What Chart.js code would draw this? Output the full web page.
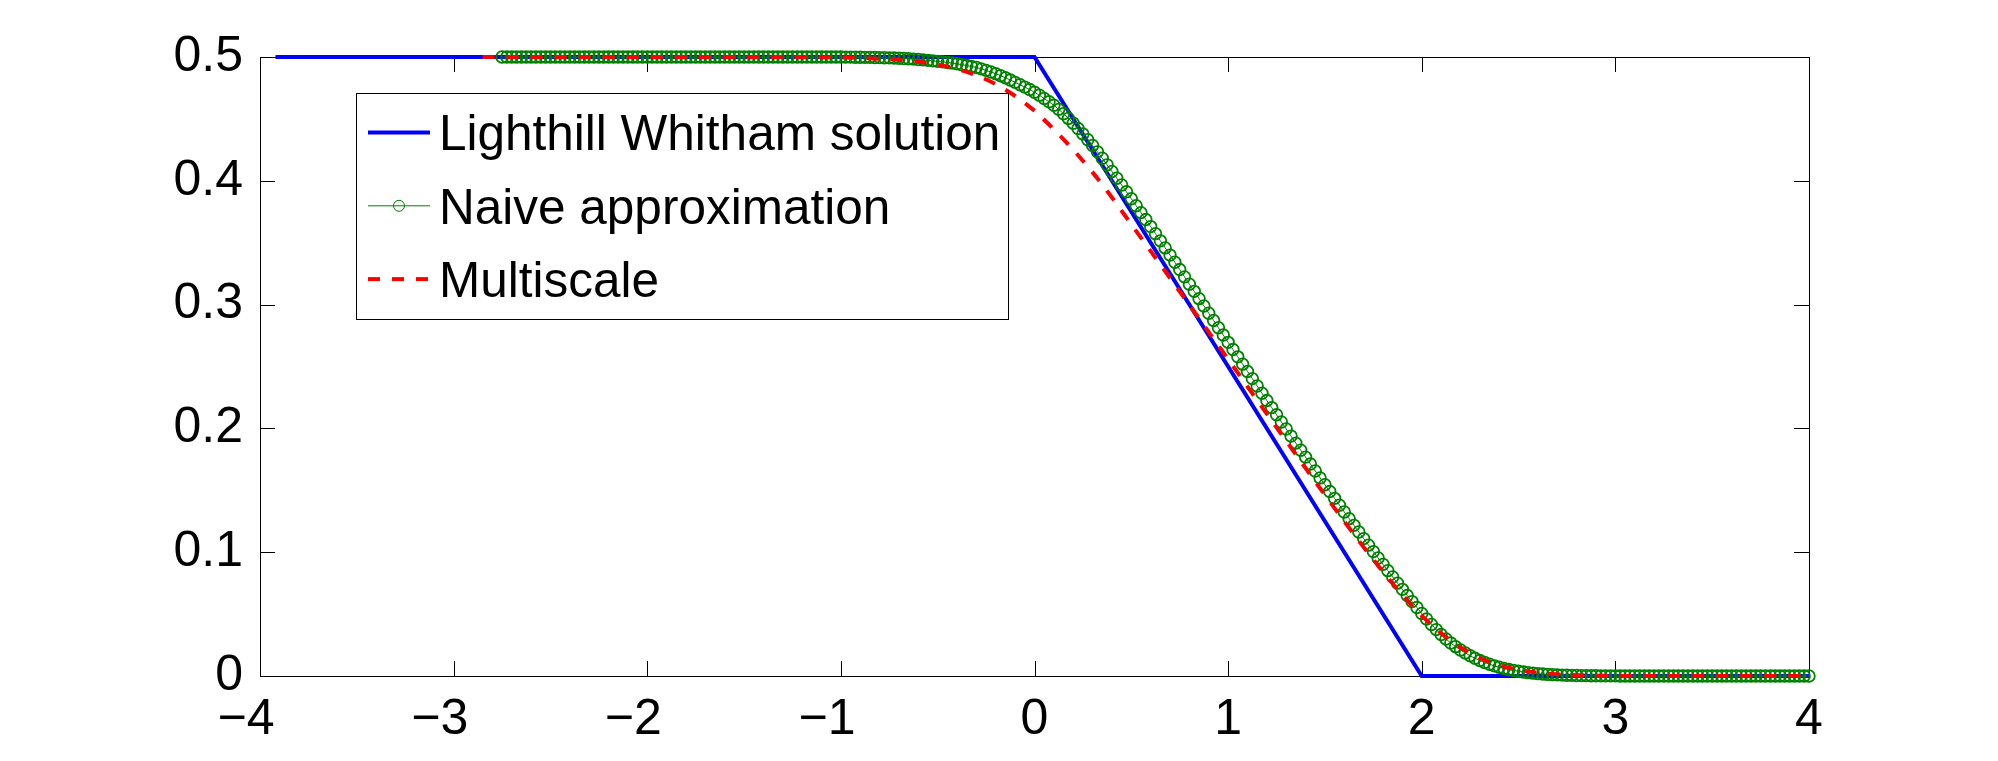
<!DOCTYPE html>
<html>
<head>
<meta charset="utf-8">
<script src="https://cdn.jsdelivr.net/npm/chart.js@4.4.1/dist/chart.umd.min.js"></script>
<style>
  html, body { margin: 0; background: #fff; }
  #wrap { position: relative; width: 1998px; height: 761px; }
</style>
</head>
<body>
<div id="wrap"><canvas id="plot"></canvas></div>
<script>
// Lighthill Whitham solution (piecewise linear)
const lwX = [-3.92, 0, 2, 4];
const lwY = [0.5, 0.5, 0, 0];

// Naive approximation (circle markers, dense)
const naiveX = [
  -2.75,-2.725,-2.7,-2.675,-2.65,-2.625,-2.6,-2.575,-2.55,-2.525,
  -2.5,-2.475,-2.45,-2.425,-2.4,-2.375,-2.35,-2.325,-2.3,-2.275,
  -2.25,-2.225,-2.2,-2.175,-2.15,-2.125,-2.1,-2.075,-2.05,-2.025,
  -2,-1.975,-1.95,-1.925,-1.9,-1.875,-1.85,-1.825,-1.8,-1.775,
  -1.75,-1.725,-1.7,-1.675,-1.65,-1.625,-1.6,-1.575,-1.55,-1.525,
  -1.5,-1.475,-1.45,-1.425,-1.4,-1.375,-1.35,-1.325,-1.3,-1.275,
  -1.25,-1.225,-1.2,-1.175,-1.15,-1.125,-1.1,-1.075,-1.05,-1.025,
  -1,
  -0.975,-0.95,-0.925,-0.9,-0.875,-0.85,-0.825,-0.8,-0.775,-0.75,-0.725,-0.7,-0.675,-0.65,-0.625,-0.6,-0.575,-0.55,-0.525,-0.5,
  -0.475,-0.45,-0.425,-0.4,-0.375,-0.35,-0.325,-0.3,-0.275,-0.25,-0.225,-0.2,-0.175,-0.15,-0.125,-0.1,-0.075,-0.05,-0.025,0,
  0.025,0.05,0.075,0.1,0.125,0.15,0.175,0.2,0.225,0.25,0.275,0.3,0.325,0.35,0.375,0.4,0.425,0.45,0.475,0.5,
  0.525,0.55,0.575,0.6,0.625,0.65,0.675,0.7,0.725,0.75,0.775,0.8,0.825,0.85,0.875,0.9,0.925,0.95,0.975,1,
  1.025,1.05,1.075,1.1,1.125,1.15,1.175,1.2,1.225,1.25,1.275,1.3,1.325,1.35,1.375,1.4,1.425,1.45,1.475,1.5,
  1.525,1.55,1.575,1.6,1.625,1.65,1.675,1.7,1.725,1.75,1.775,1.8,1.825,1.85,1.875,1.9,1.925,1.95,1.975,2,
  2.025,2.05,2.075,2.1,2.125,2.15,2.175,2.2,2.225,2.25,2.275,2.3,2.325,2.35,2.375,2.4,2.425,2.45,2.475,2.5,
  2.525,2.55,2.575,2.6,2.625,2.65,2.675,2.7,2.725,2.75,2.775,2.8,2.825,2.85,2.875,2.9,2.925,2.95,2.975,3,
  3.025,3.05,3.075,3.1,3.125,3.15,3.175,3.2,3.225,3.25,3.275,3.3,3.325,3.35,3.375,3.4,3.425,3.45,3.475,3.5,
  3.525,3.55,3.575,3.6,3.625,3.65,3.675,3.7,3.725,3.75,3.775,3.8,3.825,3.85,3.875,3.9,3.925,3.95,3.975,4];
const naiveY = [
  0.5,0.5,0.5,0.5,0.5,0.5,0.5,0.5,0.5,0.5,
  0.5,0.5,0.5,0.5,0.5,0.5,0.5,0.5,0.5,0.5,
  0.5,0.5,0.5,0.5,0.5,0.5,0.5,0.5,0.5,0.5,
  0.5,0.5,0.5,0.5,0.5,0.5,0.5,0.5,0.5,0.5,
  0.5,0.5,0.5,0.5,0.5,0.5,0.5,0.5,0.5,0.5,
  0.5,0.5,0.5,0.5,0.5,0.5,0.5,0.5,0.5,0.5,
  0.5,0.5,0.5,0.5,0.5,0.5,0.5,0.5,0.5,0.5,
  0.5,
  0.4999,0.4999,0.4998,0.4998,0.4997,0.4997,0.4996,0.4995,0.4994,0.4993,0.4992,0.499,0.4988,0.4986,0.4983,0.498,0.4977,0.4973,0.4969,0.4965,
  0.4961,0.4956,0.4951,0.4945,0.4938,0.4931,0.4923,0.4915,0.4904,0.4892,0.4879,0.4865,0.4849,0.4832,0.4814,0.4795,0.4776,0.4757,0.4737,0.4715,
  0.4691,0.4665,0.4638,0.461,0.4577,0.4542,0.4504,0.4465,0.4422,0.4378,0.4332,0.4285,0.4234,0.4182,0.4129,0.4075,0.4021,0.3966,0.3911,0.3855,
  0.3799,0.3743,0.3687,0.363,0.3573,0.3515,0.3458,0.34,0.3342,0.3283,0.3224,0.3165,0.3107,0.3048,0.2989,0.293,0.2872,0.2813,0.2754,0.2695,
  0.2637,0.2578,0.2519,0.246,0.2402,0.2343,0.2284,0.2225,0.2168,0.211,0.2052,0.1995,0.1938,0.1881,0.1824,0.1768,0.1712,0.1656,0.16,0.1545,
  0.149,0.1435,0.138,0.1325,0.1271,0.1217,0.1163,0.111,0.1057,0.1005,0.0953,0.0902,0.0851,0.08,0.075,0.07,0.065,0.0601,0.0553,0.0505,
  0.046,0.0416,0.0375,0.0335,0.0299,0.0266,0.0237,0.021,0.0186,0.0163,0.0143,0.0125,0.0109,0.0095,0.0082,0.0071,0.0061,0.0052,0.0045,0.0038,
  0.0032,0.0027,0.0023,0.0019,0.0016,0.0013,0.0011,0.0009,0.0007,0.0006,0.0005,0.0004,0.0003,0.0003,0.0002,0.0002,0.0001,0.0001,0.0001,0.0001,
  0,0,0,0,0,0,0,0,0,0,
  0,0,0,0,0,0,0,0,0,0,
  0,0,0,0,0,0,0,0,0,0,
  0,0,0,0,0,0,0,0,0,0];

// Multiscale (dashed)
const multiX = [-2.85,-2.4,-2,-1.6,-1.3,-1.2,-1.1,-1,-0.9,-0.8,-0.7,-0.6,-0.5,-0.4,-0.3,-0.2,-0.1,0,
  0.1,0.2,0.3,0.4,0.5,0.6,0.7,0.8,0.9,1,1.1,1.2,1.3,1.4,1.5,1.6,1.7,1.8,1.9,2,
  2.1,2.2,2.3,2.4,2.5,2.6,2.7,2.8,2.9,3,3.5,4];
const multiY = [0.5,0.5,0.5,0.5,0.5,0.4999,0.4998,0.4996,0.4992,0.4986,0.4976,0.4961,0.4938,0.4903,0.4852,0.478,0.4685,0.4565,
  0.4415,0.425,0.4068,0.3865,0.3648,0.3432,0.3215,0.2997,0.2778,0.2558,0.2338,0.2118,0.1898,0.1679,0.1462,0.1249,0.1041,0.0842,0.0655,0.0488,
  0.0345,0.023,0.0145,0.0087,0.005,0.0027,0.0014,0.0007,0.0003,0.0001,0,0];

const labels = ['Lighthill Whitham solution', 'Naive approximation', 'Multiscale'];
const xTicks = [-4, -3, -2, -1, 0, 1, 2, 3, 4];
const yTicks = [0, 0.1, 0.2, 0.3, 0.4, 0.5];

const FONT = "'Liberation Sans', Arial, Helvetica, sans-serif";
const TICK = 15;

function pts(xs, ys) {
  return xs.map((x, i) => ({x: x, y: ys[i]}));
}

// axes box with inward ticks (drawn under the data, like matlab)
const frame = {
  id: 'frame',
  beforeDatasetsDraw(chart) {
    const {ctx, chartArea: a, scales} = chart;
    ctx.save();
    ctx.strokeStyle = '#000';
    ctx.lineWidth = 1;
    ctx.strokeRect(a.left + 0.5, a.top + 0.5, a.width, a.height);
    ctx.beginPath();
    scales.x.ticks.forEach(t => {
      const px = Math.round(scales.x.getPixelForValue(t.value)) + 0.5;
      ctx.moveTo(px, a.bottom); ctx.lineTo(px, a.bottom - TICK);
      ctx.moveTo(px, a.top); ctx.lineTo(px, a.top + TICK);
    });
    scales.y.ticks.forEach(t => {
      const py = Math.round(scales.y.getPixelForValue(t.value)) + 0.5;
      ctx.moveTo(a.left, py); ctx.lineTo(a.left + TICK, py);
      ctx.moveTo(a.right, py); ctx.lineTo(a.right - TICK, py);
    });
    ctx.stroke();
    ctx.restore();
  }
};

// boxed legend inside the axes
const legendBox = {
  id: 'legendBox',
  afterDatasetsDraw(chart) {
    const {ctx, chartArea: a} = chart;
    const left = a.left + 96, top = a.top + 36, w = 652, h = 226;
    const size = 49.5;
    ctx.save();
    ctx.fillStyle = '#fff';
    ctx.fillRect(left, top, w, h);
    ctx.strokeStyle = '#000';
    ctx.lineWidth = 1;
    ctx.strokeRect(left + 0.5, top + 0.5, w, h);
    ctx.font = size + 'px ' + FONT;
    ctx.textBaseline = 'alphabetic';
    ctx.textAlign = 'left';
    chart.data.datasets.forEach((ds, i) => {
      const cy = top + 39.5 + i * 73.3;
      ctx.strokeStyle = ds.borderColor;
      ctx.lineWidth = ds.borderWidth;
      ctx.setLineDash(ds.borderDash || []);
      ctx.beginPath();
      ctx.moveTo(left + 12, cy);
      ctx.lineTo(left + 74, cy);
      ctx.stroke();
      ctx.setLineDash([]);
      if (ds.pointRadius) {
        ctx.lineWidth = 1;
        ctx.beginPath();
        ctx.arc(left + 43, cy, 5.5, 0, Math.PI * 2);
        ctx.stroke();
      }
      ctx.fillStyle = '#000';
      ctx.fillText(ds.label, left + 83, cy + 0.358 * size);
    });
    ctx.restore();
  }
};

new Chart(document.getElementById('plot'), {
  type: 'scatter',
  data: {
    datasets: [{
      label: labels[0],
      data: pts(lwX, lwY),
      showLine: true,
      borderColor: '#0000ff',
      borderWidth: 4,
      pointRadius: 0,
      order: 3,
      clip: false
    }, {
      label: labels[1],
      data: pts(naiveX, naiveY),
      showLine: true,
      borderColor: '#008000',
      borderWidth: 1,
      pointStyle: 'circle',
      pointRadius: 5.8,
      pointBorderWidth: 1.8,
      pointBorderColor: '#008000',
      pointBackgroundColor: 'rgba(0,0,0,0)',
      order: 2,
      clip: false
    }, {
      label: labels[2],
      data: pts(multiX, multiY),
      showLine: true,
      borderColor: '#ff0000',
      borderWidth: 4,
      borderDash: [12, 12],
      cubicInterpolationMode: 'monotone',
      pointRadius: 0,
      order: 1,
      clip: false
    }]
  },
  options: {
    responsive: true,
    maintainAspectRatio: false,
    animation: false,
    events: [],
    layout: { padding: { left: 0, top: 57, right: 189, bottom: 0 } },
    plugins: {
      legend: { display: false },
      tooltip: { enabled: false }
    },
    scales: {
      x: {
        type: 'linear',
        min: -4,
        max: 4,
        afterFit(scale) { scale.height = 85; },
        afterBuildTicks(scale) { scale.ticks = xTicks.map(v => ({value: v})); },
        grid: { display: false },
        border: { display: false },
        ticks: {
          padding: 6,
          color: '#000',
          font: { family: FONT, size: 50 },
          callback: v => v < 0 ? '\u2212' + (-v) + '  ' : String(v)
        }
      },
      y: {
        min: 0,
        max: 0.5,
        afterFit(scale) { scale.width = 260; },
        afterBuildTicks(scale) { scale.ticks = yTicks.map(v => ({value: v})); },
        grid: { display: false },
        border: { display: false },
        ticks: {
          padding: 9,
          color: '#000',
          font: { family: FONT, size: 50 },
          callback: v => String(Math.round(v * 10) / 10)
        }
      }
    }
  },
  plugins: [frame, legendBox]
});
</script>
</body>
</html>
